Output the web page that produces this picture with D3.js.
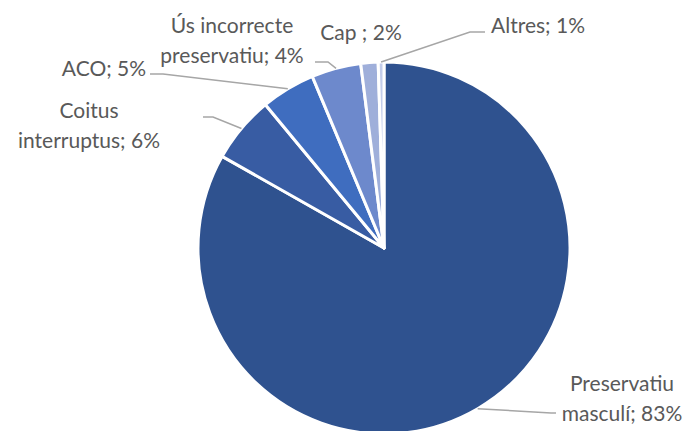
<!DOCTYPE html>
<html>
<head>
<meta charset="utf-8">
<script src="https://cdn.jsdelivr.net/npm/d3@7/dist/d3.min.js"></script>
<style>
  html, body { margin: 0; padding: 0; background: #fff; }
  svg { display: block; }
  text { font-family: Lato, "Open Sans", sans-serif; fill: #595959; }
</style>
</head>
<body>
<svg id="chart" width="688" height="431"></svg>
<script>
// ---- data ----
const categories = ["Preservatiu masculí", "Coitus interruptus", "ACO", "Ús incorrecte preservatiu", "Cap ", "Altres"];
const values = [83.2, 5.8, 4.7, 4.3, 1.5, 0.5];
const colors = ["#2F528F", "#385CA3", "#3F6DBF", "#6D89CC", "#9FAFDA", "#C3CDEA"];

// ---- label layout (position of text and leader elbows) ----
const labelLayout = [
  { x: 622, y: 391, wrap: true,  elbow: [551, 413], end: [556, 413] },
  { x: 89,  y: 118, wrap: true,  elbow: [213, 117], end: [203, 117] },
  { x: 104, y: 76,  wrap: false, elbow: [163, 74],  end: [150, 74] },
  { x: 232, y: 33,  wrap: true,  elbow: [328, 62],  end: [315, 62] },
  { x: 361, y: 40,  wrap: false, elbow: null,       end: null },
  { x: 538, y: 33,  wrap: false, elbow: [470, 32],  end: [485, 32] }
];

const W = 688, H = 431;
const cx = 384, cy = 248, R = 186;
const fontSize = 21, lineH = 30;

const svg = d3.select("#chart");
const total = d3.sum(values);
const data = categories.map((c, i) => ({ name: c, value: values[i], color: colors[i], layout: labelLayout[i] }));

const pie = d3.pie().value(d => d.value).sort(null);
const arcs = pie(data);
const arc = d3.arc().innerRadius(0).outerRadius(R);

const g = svg.append("g").attr("transform", `translate(${cx},${cy})`);

g.selectAll("path.slice")
  .data(arcs)
  .enter().append("path")
  .attr("class", "slice")
  .attr("d", arc)
  .attr("fill", d => d.data.color)
  .attr("stroke", "#fff")
  .attr("stroke-width", 3)
  .attr("stroke-linejoin", "round");

// leader lines
const lines = svg.append("g");
arcs.forEach(a => {
  const L = a.data.layout;
  if (!L.elbow) return;
  const mid = (a.startAngle + a.endAngle) / 2;
  const sx = cx + R * Math.sin(mid), sy = cy - R * Math.cos(mid);
  lines.append("polyline")
    .attr("points", [[sx, sy], L.elbow, L.end].map(p => p.join(",")).join(" "))
    .attr("fill", "none")
    .attr("stroke", "#A6A6A6")
    .attr("stroke-width", 1.5);
});

// labels
const labels = svg.append("g");
arcs.forEach(a => {
  const L = a.data.layout;
  const pct = Math.round(a.data.value / total * 100) + "%";
  let rows;
  if (L.wrap) {
    const words = a.data.name.trim().split(" ");
    const last = words.pop();
    rows = [words.join(" "), last + "; " + pct];
  } else {
    rows = [a.data.name + "; " + pct];
  }
  const t = labels.append("text")
    .attr("text-anchor", "middle")
    .attr("font-size", fontSize)
    .attr("x", L.x).attr("y", L.y)
    .style("white-space", "pre");
  rows.forEach((r, i) => {
    t.append("tspan").attr("x", L.x).attr("y", L.y + i * lineH).text(r);
  });
});
</script>
</body>
</html>
